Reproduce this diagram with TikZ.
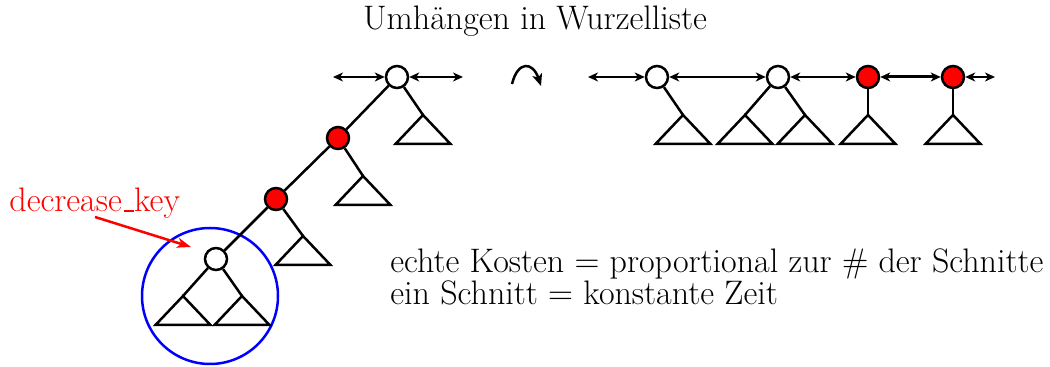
\documentclass[tikz,border=0pt]{standalone}
\usetikzlibrary{arrows.meta}
\begin{document}
\begin{tikzpicture}[x=0.5pt,y=-0.5pt,
  treeline/.style={line width=1.25pt},
  knot/.style={circle, draw, line width=1.25pt, minimum size=11pt, inner sep=0pt, fill=white},
  redknot/.style={knot, fill=red},
  link/.style={line width=1pt, {Stealth[length=5pt,width=4.5pt,inset=1.5pt]}-{Stealth[length=5pt,width=4.5pt,inset=1.5pt]}, shorten <=0pt, shorten >=0pt},
  txt/.style={font=\fontsize{17}{20}\selectfont, inner sep=0pt},
  subtree/.pic={\draw[treeline, line join=miter] (-27.5,29) -- (0,0) -- (27.5,29) -- cycle;}]
\useasboundingbox (0,0) rectangle (1050,367);

% title and texts
\node[txt, anchor=base] (title) at (535,30) {Umhängen in Wurzelliste};
\node[txt, anchor=base west] (cost1) at (390,273) {echte Kosten $=$ proportional zur \# der Schnitte};
\node[txt, anchor=base west] (cost2) at (390,305) {ein Schnitt $=$ konstante Zeit};
\node[txt, anchor=base west, text=red] (dk) at (9,212) {decrease\kern.06em\vbox{\hrule width .3em height .8pt}key};

% blue circle
\node[circle, draw=blue, line width=1.25pt, minimum size=68pt, inner sep=0pt] (cut) at (210,296) {};

% left tree (path)
\coordinate (tA) at (423,115);
\coordinate (tB) at (363,176);
\coordinate (tC) at (303,236);
\coordinate (tD1) at (183,296);
\coordinate (tD2) at (242,296);
\pic at (tA) {subtree};
\pic at (tB) {subtree};
\pic at (tC) {subtree};
\pic at (tD1) {subtree};
\pic at (tD2) {subtree};

\node[knot] (A) at (397,77) {};
\node[redknot] (B) at (338,138) {};
\node[redknot] (C) at (276,199) {};
\node[knot] (D) at (216,259) {};

\draw[treeline] (A) -- (B);
\draw[treeline] (B) -- (C);
\draw[treeline] (C) -- (D);
\draw[treeline] (A) -- (tA);
\draw[treeline] (B) -- (tB);
\draw[treeline] (C) -- (tC);
\draw[treeline] (D) -- (tD1);
\draw[treeline] (D) -- (tD2);

\coordinate (AL) at (333,77);
\coordinate (AR) at (463,77);
\draw[link] (AL) -- (A);
\draw[link] (A) -- (AR);

% red arrow
\coordinate (dkS) at (95,217);
\coordinate (dkE) at (191,247);
\draw[red, line width=1.25pt, -{Stealth[length=7pt,width=5pt,inset=2pt]}] (dkS) -- (dkE);

% curved arrow
\coordinate (cs) at (512,84);
\coordinate (ce) at (541,86);
\draw[line width=1.25pt, -{Stealth[length=6pt,width=5pt,inset=1.5pt]}] (cs) .. controls (518,60) and (533,62) .. (ce);

% right root list
\coordinate (tE) at (683,115);
\coordinate (tF1) at (745,115);
\coordinate (tF2) at (805,115);
\coordinate (tG) at (868,115);
\coordinate (tH) at (953,115);
\pic at (tE) {subtree};
\pic at (tF1) {subtree};
\pic at (tF2) {subtree};
\pic at (tG) {subtree};
\pic at (tH) {subtree};

\node[knot] (E) at (657,77) {};
\node[knot] (F) at (778,77) {};
\node[redknot] (G) at (868,77) {};
\node[redknot] (H) at (953,77) {};

\draw[treeline] (E) -- (tE);
\draw[treeline] (F) -- (tF1);
\draw[treeline] (F) -- (tF2);
\draw[treeline] (G) -- (tG);
\draw[treeline] (H) -- (tH);

\coordinate (EL) at (588,77);
\coordinate (HR) at (995,77);
\draw[link] (EL) -- (E);
\draw[link] (E) -- (F);
\draw[link] (F) -- (G);
\draw[link, line width=1.5pt] (G) -- (H);
\draw[link] (H) -- (HR);
\end{tikzpicture}
\end{document}
